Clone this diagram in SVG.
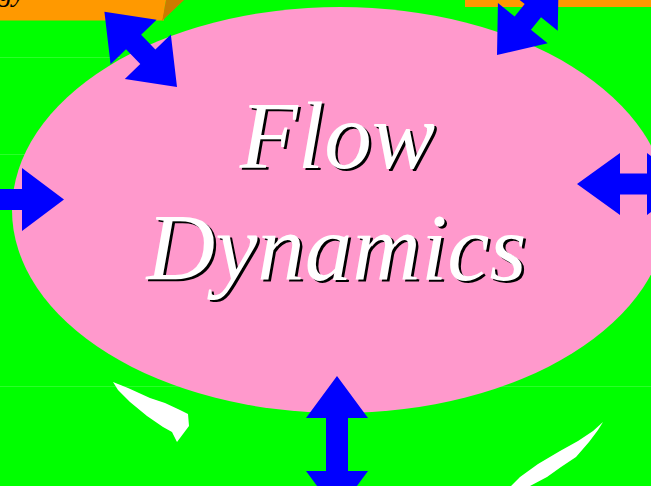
<svg xmlns="http://www.w3.org/2000/svg" width="651" height="486" viewBox="0 0 651 486">
<style>
.arrow{fill:#0000FF}
.title{font-family:"Liberation Serif","Times New Roman",serif;font-style:italic;font-size:95px;text-anchor:middle}
.fg{fill:#FFFFFF}
.sh{fill:#000000}
.faint{stroke:#55FF55;stroke-width:1;opacity:0.5}
</style>
<rect width="651" height="486" fill="#00FF00"/>
<line class="faint" x1="0" y1="57.5" x2="120" y2="57.5"/>
<line class="faint" x1="0" y1="154.5" x2="40" y2="154.5"/>
<line class="faint" x1="0" y1="386.5" x2="651" y2="386.5"/>
<g id="box-left">
<rect x="0" y="0" width="164" height="20.5" fill="#FF9900"/>
<polygon points="166,0 184,0 162,21 162,20" fill="#CC7A00"/>
<polygon points="163,0 166,0 162,21 162,0" fill="#FF9900"/>
<text x="25" y="1" font-family="'Liberation Serif','Times New Roman',serif" font-style="italic" font-size="28" text-anchor="end" fill="#000">gy</text>
</g>
<g id="box-right">
<rect x="465" y="0" width="186" height="7" fill="#FF9900"/>
</g>
<g id="swooshes" fill="#FFFFFF">
<polygon points="113,382 128,388 150,398 165,403 180,410 188,414 189,426 183,434 177,442 172,432 163,427 147,416 130,402 118,390"/>
<polygon points="603,422 593,431 578,441 560,451 538,464 520,477 511,486 530,486 547,477 561,467 576,457 589,442 598,430"/>
</g>
<g id="flow-dynamics">
<ellipse cx="340" cy="210" rx="328" ry="203" fill="#FF99CC"/>
<text class="title sh" x="340" y="170">Flow</text>
<text class="title fg" x="337.5" y="167.5">Flow</text>
<text class="title sh" x="339" y="282">Dynamics</text>
<text class="title fg" x="336.5" y="279.5">Dynamics</text>
</g>
<g id="connectors" class="arrow">
<polygon points="0,0 42,-32 42,-10.5 62.5,-10.5 62.5,-32 104.5,0 62.5,32 62.5,10.5 42,10.5 42,32" transform="translate(177,87) rotate(-134)"/>
<polygon points="0,0 41,-32 41,-10.5 57,-10.5 57,-32 98,0 57,32 57,10.5 41,10.5 41,32" transform="translate(497,55) rotate(-51)"/>
<polygon points="0,0 42,-31.5 42,-10.5 82,-10.5 82,-31.5 124,0 82,31.5 82,10.5 42,10.5 42,31.5" transform="translate(64,199.5) rotate(180)"/>
<polygon points="0,0 43,-31 43,-10.5 70,-10.5 70,-31 113,0 70,31 70,10.5 43,10.5 43,31" transform="translate(577,184)"/>
<polygon points="0,0 42,-31 42,-11 95,-11 95,-31 137,0 95,31 95,11 42,11 42,31" transform="translate(337,376) rotate(90)"/>
</g>
</svg>
